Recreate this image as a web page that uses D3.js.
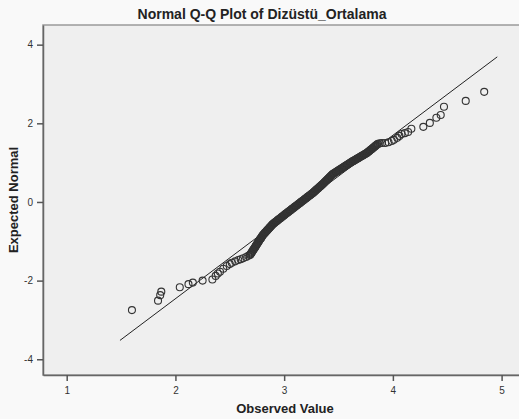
<!DOCTYPE html>
<html>
<head>
<meta charset="utf-8">
<script src="https://cdn.jsdelivr.net/npm/d3@7"></script>
<style>
  body { margin: 0; background: #f9f9f9; }
  text { font-family: "Liberation Sans", Arial, sans-serif; }
</style>
</head>
<body>
<svg id="chart" width="519" height="419"></svg>
<script>

// Q-Q DATA -----------------------------------------------------

var title = "Normal Q-Q Plot of Dizüstü_Ortalama"
var xLabel = "Observed Value"
var yLabel = "Expected Normal"

var xTicks = [1, 2, 3, 4, 5]
var yTicks = [-4, -2, 0, 2, 4]

// reference line end points
var lineObserved = [1.49, 4.96]
var lineExpected = [-3.52, 3.69]

var observed = [
	1.60, 1.84, 1.86, 1.87, 2.04, 2.12, 2.16, 2.25, 2.34,
	2.37, 2.39, 2.41, 2.44, 2.472, 2.50, 2.518, 2.55, 2.578, 2.60, 2.622, 2.65, 2.67, 2.686,
	2.695, 2.705, 2.714, 2.723, 2.733, 2.742, 2.751,
	2.760, 2.769, 2.778, 2.787, 2.796, 2.805,
	2.817, 2.828, 2.840, 2.851, 2.863, 2.874, 2.886, 2.897,
	2.910, 2.923, 2.935, 2.948, 2.961, 2.974, 2.987, 2.999, 3.012, 3.025,
	3.038, 3.052, 3.065, 3.078, 3.092, 3.105, 3.118, 3.132, 3.145,
	3.158, 3.171, 3.185, 3.198, 3.211, 3.224, 3.237, 3.251, 3.264,
	3.276, 3.287, 3.298, 3.310, 3.321, 3.333, 3.345, 3.356,
	3.368, 3.379, 3.391, 3.402, 3.414, 3.425, 3.437, 3.448,
	3.462, 3.477, 3.491, 3.505, 3.519, 3.534, 3.548, 3.562, 3.576, 3.591, 3.605,
	3.619, 3.633, 3.648, 3.662, 3.676, 3.690, 3.704, 3.719, 3.733, 3.747, 3.761,
	3.774, 3.786, 3.799, 3.812, 3.824, 3.837, 3.849, 3.862,
	3.88, 3.90, 3.93, 3.96, 3.99, 4.01, 4.04, 4.06, 4.08, 4.11, 4.14, 4.17,
	4.28, 4.34, 4.40, 4.44, 4.47, 4.67, 4.84
]

var expected = [
	-2.75, -2.51, -2.37, -2.28, -2.17, -2.09, -2.05, -2.00, -1.97,
	-1.88, -1.82, -1.773, -1.70, -1.628, -1.58, -1.544, -1.51, -1.476, -1.455, -1.432, -1.40, -1.37, -1.349,
	-1.31, -1.27, -1.23, -1.19, -1.15, -1.11, -1.07,
	-1.03, -0.99, -0.95, -0.92, -0.88, -0.84,
	-0.805, -0.77, -0.735, -0.70, -0.665, -0.63, -0.595, -0.56,
	-0.532, -0.504, -0.476, -0.448, -0.42, -0.392, -0.364, -0.336, -0.308, -0.28,
	-0.252, -0.223, -0.195, -0.167, -0.138, -0.110, -0.082, -0.053, -0.025,
	0.003, 0.031, 0.060, 0.088, 0.116, 0.144, 0.172, 0.201, 0.229,
	0.258, 0.286, 0.315, 0.343, 0.372, 0.401, 0.429, 0.458,
	0.490, 0.522, 0.553, 0.585, 0.617, 0.649, 0.680, 0.712,
	0.737, 0.763, 0.788, 0.814, 0.839, 0.865, 0.890, 0.916, 0.941, 0.967, 0.992,
	1.015, 1.038, 1.062, 1.085, 1.108, 1.131, 1.154, 1.178, 1.201, 1.224, 1.247,
	1.276, 1.304, 1.333, 1.361, 1.390, 1.419, 1.447, 1.476,
	1.49, 1.50, 1.50, 1.52, 1.55, 1.58, 1.63, 1.68, 1.73, 1.75, 1.78, 1.86,
	1.91, 2.01, 2.14, 2.21, 2.42, 2.57, 2.80
]

// more cases packed into the solid black band
var bandObserved = [
	2.690, 2.700, 2.709, 2.718, 2.728, 2.737, 2.746,
	2.755, 2.764, 2.773, 2.782, 2.791, 2.800,
	2.811, 2.822, 2.834, 2.845, 2.857, 2.868, 2.880, 2.891,
	2.903, 2.916, 2.929, 2.941, 2.954, 2.967, 2.980, 2.993, 3.005, 3.018,
	3.031, 3.045, 3.058, 3.071, 3.085, 3.098, 3.111, 3.125, 3.138,
	3.151, 3.164, 3.178, 3.191, 3.204, 3.217, 3.230, 3.244, 3.257,
	3.270, 3.281, 3.292, 3.304, 3.315, 3.327, 3.339, 3.350,
	3.362, 3.373, 3.385, 3.396, 3.408, 3.419, 3.431, 3.442,
	3.455, 3.470, 3.484, 3.498, 3.512, 3.527, 3.541, 3.555, 3.569, 3.584, 3.598,
	3.612, 3.626, 3.641, 3.655, 3.669, 3.683, 3.697, 3.712, 3.726, 3.740, 3.754,
	3.768, 3.780, 3.793, 3.806, 3.818, 3.831, 3.843, 3.855
]

var bandExpected = [
	-1.33, -1.29, -1.25, -1.21, -1.17, -1.13, -1.09,
	-1.05, -1.01, -0.97, -0.935, -0.90, -0.86,
	-0.822, -0.787, -0.752, -0.717, -0.682, -0.647, -0.612, -0.577,
	-0.546, -0.518, -0.49, -0.462, -0.434, -0.406, -0.378, -0.35, -0.322, -0.294,
	-0.266, -0.237, -0.209, -0.181, -0.152, -0.124, -0.096, -0.067, -0.039,
	-0.011, 0.017, 0.045, 0.074, 0.102, 0.130, 0.158, 0.186, 0.215,
	0.243, 0.272, 0.300, 0.329, 0.357, 0.386, 0.415, 0.443,
	0.474, 0.506, 0.537, 0.569, 0.601, 0.633, 0.664, 0.696,
	0.724, 0.75, 0.775, 0.801, 0.826, 0.852, 0.877, 0.903, 0.928, 0.954, 0.979,
	1.003, 1.026, 1.05, 1.073, 1.096, 1.119, 1.142, 1.166, 1.189, 1.212, 1.235,
	1.262, 1.29, 1.319, 1.347, 1.376, 1.405, 1.433, 1.462
]

// CHART --------------------------------------------------------

var svg = d3.select("#chart"),
	margin = {top: 25, left: 43, bottom: 44, right: 0},
	width = +svg.attr("width"),
	height = +svg.attr("height");

var x = d3.scaleLinear()
	.domain([0.782, 5.16])
	.range([margin.left, width - margin.right])

var y = d3.scaleLinear()
	.domain([-4.4, 4.5])
	.range([height - margin.bottom, margin.top])

var points = observed.map((d, i) => ({obs: d, exp: expected[i]}))
	.concat(bandObserved.map((d, i) => ({obs: d, exp: bandExpected[i]})))

// plot area
svg.append("rect")
	.attr("x", margin.left)
	.attr("y", margin.top)
	.attr("width", width - margin.left + 5)
	.attr("height", height - margin.bottom - margin.top)
	.attr("fill", "#efefef")
	.attr("stroke", "#9a9a9a")
	.attr("stroke-width", 1.5)

var xAxis = svg.append("g")
	.attr("transform", `translate(0,${height - margin.bottom})`)
	.call(d3.axisBottom(x).tickValues(xTicks).tickFormat(d => String(d)).tickSize(6).tickSizeOuter(0))

var yAxis = svg.append("g")
	.attr("transform", `translate(${margin.left},0)`)
	.call(d3.axisLeft(y).tickValues(yTicks).tickFormat(d => String(d)).tickSize(6).tickSizeOuter(0))

svg.selectAll(".domain")
	.attr("stroke", "#666")
	.attr("stroke-width", 1.5)

svg.selectAll(".tick line")
	.attr("stroke", "#555")
	.attr("stroke-width", 1.5)

svg.selectAll(".tick text")
	.attr("fill", "#333")
	.style("font-size", "10px")

xAxis.selectAll(".tick text").attr("dy", "1em")
yAxis.selectAll(".tick text").attr("dx", "-1px")

// reference line
svg.append("line")
	.attr("x1", x(lineObserved[0]))
	.attr("y1", y(lineExpected[0]))
	.attr("x2", x(lineObserved[1]))
	.attr("y2", y(lineExpected[1]))
	.attr("stroke", "#222")
	.attr("stroke-width", 1)

// circles
svg.append("g")
	.selectAll("circle")
	.data(points)
	.enter().append("circle")
	.attr("cx", d => x(d.obs))
	.attr("cy", d => y(d.exp))
	.attr("r", 3.5)
	.attr("fill", "none")
	.attr("stroke", "#333")
	.attr("stroke-width", 1.1)

// labels
svg.append("text")
	.attr("x", 262)
	.attr("y", 19)
	.attr("text-anchor", "middle")
	.style("font-size", "14px")
	.style("font-weight", "bold")
	.attr("fill", "#222")
	.text(title)

svg.append("text")
	.attr("x", 285)
	.attr("y", 413)
	.attr("text-anchor", "middle")
	.style("font-size", "13px")
	.style("font-weight", "bold")
	.attr("fill", "#222")
	.text(xLabel)

svg.append("text")
	.attr("transform", "translate(18,200) rotate(-90)")
	.attr("text-anchor", "middle")
	.style("font-size", "13px")
	.style("font-weight", "bold")
	.attr("fill", "#222")
	.text(yLabel)

</script>
</body>
</html>
